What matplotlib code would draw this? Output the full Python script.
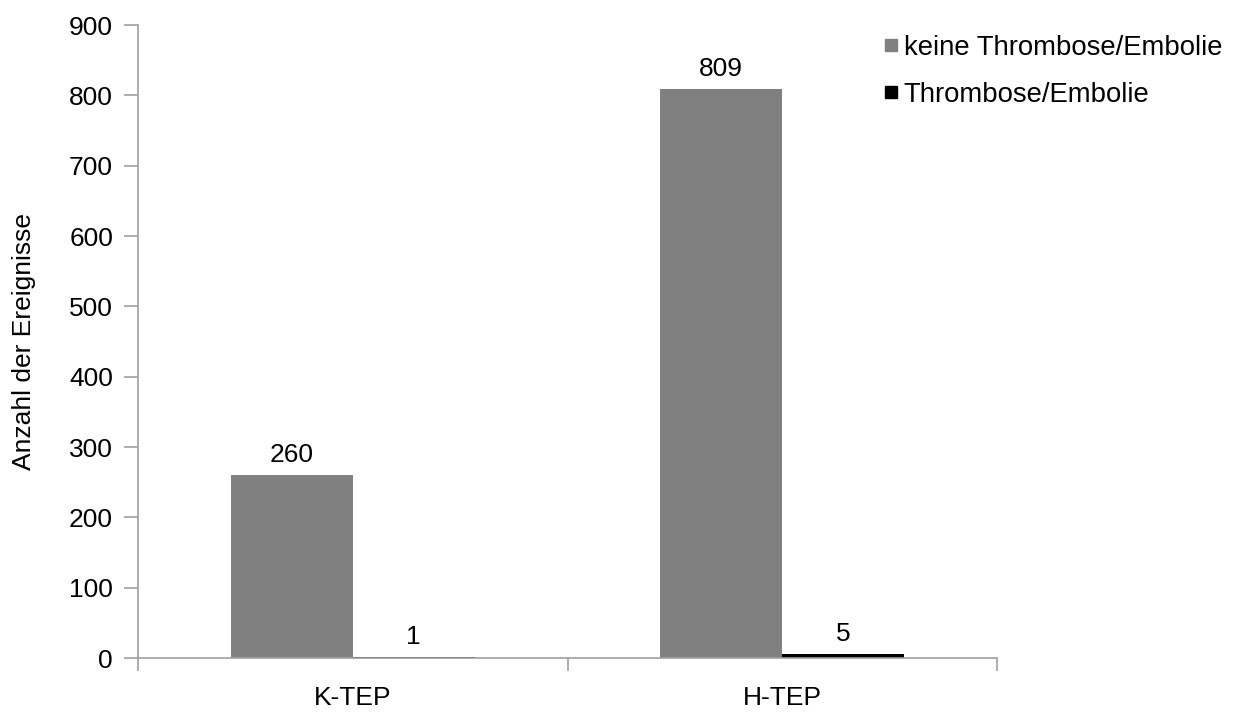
import numpy as np
import matplotlib.pyplot as plt
from matplotlib.lines import Line2D

categories = ['K-TEP', 'H-TEP']
keine = [260, 809]
mit = [1, 5]
series_names = ['keine Thrombose/Embolie', 'Thrombose/Embolie']
colors = ['#808080', '#000000']

plt.rcParams['font.family'] = ['Liberation Sans', 'DejaVu Sans']
fs = 19

fig = plt.figure(figsize=(12.36, 7.15), dpi=100)
ax = fig.add_axes([0.1117, 0.0797, 0.695, 0.8853])

x = np.arange(len(categories))
w = 0.284
b1 = ax.bar(x - w / 2, keine, w, color=colors[0])
b2 = ax.bar(x + w / 2, mit, w, color=colors[1])

for bars in (b1, b2):
    for r in bars:
        ax.text(r.get_x() + r.get_width() / 2, r.get_height() + 12,
                f'{int(r.get_height())}', ha='center', va='bottom', fontsize=fs)

ax.set_xlim(-0.5, 1.5)
ax.set_ylim(0, 900)
ax.set_yticks(range(0, 901, 100))
ax.set_xticks(x)
ax.set_xticklabels(categories, fontsize=fs)
ax.tick_params(axis='x', length=0, pad=20)
ax.set_xticks([-0.5, 0.5, 1.5], minor=True)
ax.tick_params(axis='x', which='minor', length=9, color='#a0a0a0', width=1.2)
ax.tick_params(axis='y', labelsize=fs, length=10, color='#a0a0a0', width=1.2, pad=8)
ax.set_ylabel('Anzahl der Ereignisse', fontsize=fs, labelpad=24)

for s in ['top', 'right']:
    ax.spines[s].set_visible(False)
for s in ['left', 'bottom']:
    ax.spines[s].set_color('#a0a0a0')
    ax.spines[s].set_linewidth(1.2)

handles = [Line2D([], [], marker='s', linestyle='none', color=c, markersize=9)
           for c in colors]
fig.legend(handles, series_names, loc='upper left', bbox_to_anchor=(0.700, 0.978),
           frameon=False, fontsize=19.8, handlelength=0.5, handletextpad=0.2,
           labelspacing=0.75, borderpad=0.2)

fig.savefig('out.png', dpi=100)
